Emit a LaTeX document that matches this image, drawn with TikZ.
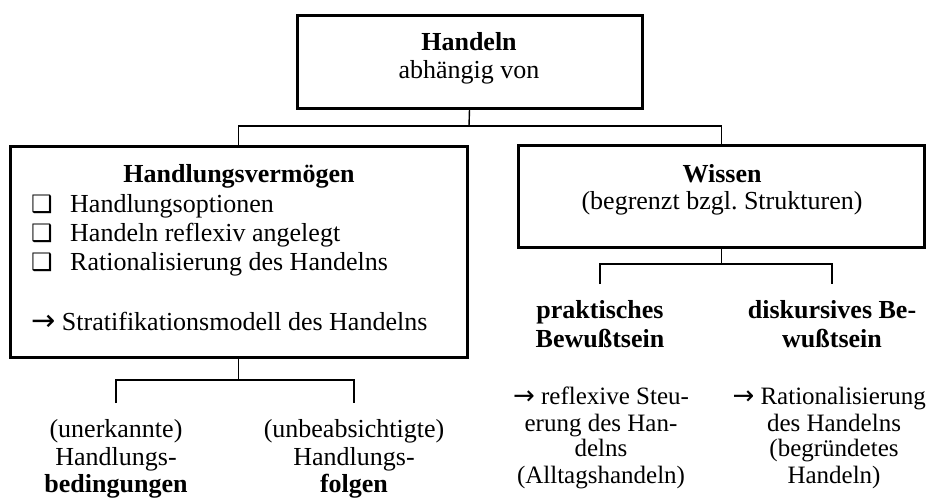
\documentclass[tikz,border=0pt]{standalone}
\usepackage{fontspec}
\setmainfont{Liberation Serif}
\newfontfamily\symfont{DejaVu Sans}
\newcommand{\rarr}{{\symfont\fontsize{29}{29}\selectfont →}}
\newcommand{\rarrs}{{\symfont\fontsize{26}{26}\selectfont →}}
\begin{document}
\begin{tikzpicture}[x=1pt,y=-1pt,
  box/.style={draw, line width=3pt, inner sep=0pt},
  conn/.style={line width=1.4pt},
  reg/.style={font=\fontsize{26}{30}\selectfont, inner sep=0pt, anchor=base},
  bld/.style={font=\bfseries\fontsize{26}{30}\selectfont, inner sep=0pt, anchor=base},
  sml/.style={font=\fontsize{25}{28}\selectfont, inner sep=0pt, anchor=base},
  lft/.style={font=\fontsize{26}{30}\selectfont, inner sep=0pt, anchor=base west},
  chk/.style={font=\symfont\fontsize{24}{24}\selectfont, inner sep=0pt, anchor=base}]
\useasboundingbox (0,0) rectangle (928,499);
% boxes
\node[box, minimum width=345pt, minimum height=93pt] (top) at (469.5,61.5) {};
\node[box, minimum width=457pt, minimum height=211pt] (lbox) at (238.5,251.5) {};
\node[box, minimum width=406pt, minimum height=102pt] (rbox) at (721.5,196) {};
% top text
\node[bld] (t1) at (469,50) {Handeln};
\node[reg] (t2) at (469,78) {abhängig von};
% left box text
\node[bld] (l0) at (239,182) {Handlungsvermögen};
\node[chk] (c1) at (42,212) {❑};
\node[chk] (c2) at (42,241) {❑};
\node[chk] (c3) at (42,270) {❑};
\node[lft] (l1) at (70,212) {Handlungsoptionen};
\node[lft] (l2) at (70,241) {Handeln reflexiv angelegt};
\node[lft] (l3) at (70,270) {Rationalisierung des Handelns};
\node[lft] (l4) at (31,330) {\rarr\ Stratifikationsmodell des Handelns};
% right box text
\node[bld] (r0) at (722,182) {Wissen};
\node[reg] (r1) at (722,209) {(begrenzt bzgl.\ Strukturen)};
% connectors top
\coordinate (j1) at (469,126);
\draw[conn] (top.south) -- (j1);
\draw[conn] (lbox.north) |- (j1) -| (rbox.north);
% left lower
\coordinate (lj) at (238.5,380);
\coordinate (lb1) at (116,403);
\coordinate (lb2) at (354,403);
\draw[conn] (lbox.south) -- (lj);
\draw[conn] (lb1) |- (lj) -| (lb2);
\node[reg] (u1a) at (116,437) {(unerkannte)};
\node[reg] (u1b) at (116,465) {Handlungs-};
\node[bld] (u1c) at (116,492) {bedingungen};
\node[reg] (u2a) at (354,437) {(unbeabsichtigte)};
\node[reg] (u2b) at (354,465) {Handlungs-};
\node[bld] (u2c) at (354,492) {folgen};
% right lower
\coordinate (rj) at (721.5,264);
\coordinate (rb1) at (600,284);
\coordinate (rb2) at (832,284);
\draw[conn] (rbox.south) -- (rj);
\draw[conn] (rb1) |- (rj) -| (rb2);
\node[bld] (p1a) at (600,318) {praktisches};
\node[bld] (p1b) at (600,347) {Bewußtsein};
\node[bld] (p2a) at (832,318) {diskursives Be-};
\node[bld] (p2b) at (832,347) {wußtsein};
\node[sml] (q1a) at (601,404) {\rarrs\ reflexive Steu-};
\node[sml] (q1b) at (601,431) {erung des Han-};
\node[sml] (q1c) at (601,456) {delns};
\node[sml] (q1d) at (601,483) {(Alltagshandeln)};
\node[sml, anchor=base east] (q2a) at (926,404) {\rarrs\ Rationalisierung};
\node[sml] (q2b) at (834,431) {des Handelns};
\node[sml] (q2c) at (834,456) {(begründetes};
\node[sml] (q2d) at (834,483) {Handeln)};
\end{tikzpicture}
\end{document}
